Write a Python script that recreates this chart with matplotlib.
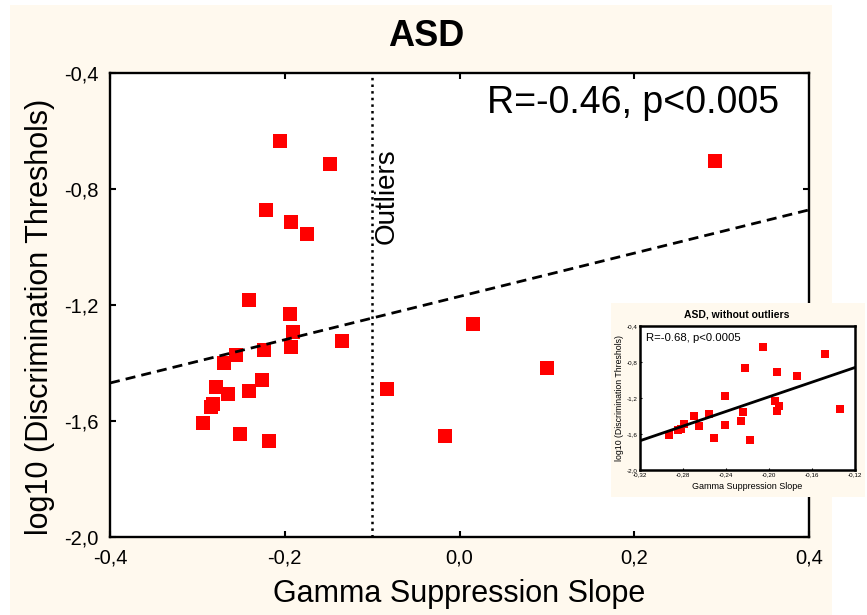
import matplotlib
matplotlib.use('Agg')
import matplotlib.pyplot as plt
from matplotlib.patches import Rectangle
from matplotlib.ticker import FuncFormatter

plt.rcParams['font.family'] = ['Liberation Sans', 'DejaVu Sans']

# gamma suppression slope / log10 thresholds
slope = [-0.2055, -0.148, -0.222, -0.193, -0.174, -0.241, -0.194, -0.191,
         -0.193, -0.134, -0.224, -0.256, -0.270, -0.2265, -0.279, -0.265,
         -0.2405, -0.282, -0.2845, -0.293, -0.251, -0.2177,
         0.2926, 0.016, 0.1003, -0.0835, -0.0168]
thresh = [-0.633, -0.713, -0.872, -0.913, -0.954, -1.183, -1.232, -1.292,
          -1.346, -1.324, -1.355, -1.374, -1.399, -1.459, -1.484, -1.507,
          -1.497, -1.541, -1.553, -1.608, -1.645, -1.669,
          -0.703, -1.267, -1.416, -1.488, -1.653]
cutoff = -0.1   # outliers to the right of this

# regression lines (end points)
fit_x = [-0.4, 0.4]
fit_y = [-1.469, -0.872]
fit2_x = [-0.32, -0.12]
fit2_y = [-1.675, -0.861]

xticks = [-0.4, -0.2, 0.0, 0.2, 0.4]
yticks = [-0.4, -0.8, -1.2, -1.6, -2.0]
xticks2 = [-0.32, -0.28, -0.24, -0.20, -0.16, -0.12]

cream = '#fff9ee'

def comma(nd):
    def f(v, pos):
        if abs(v) < 1e-9: v = 0.0
        return ('{:.%df}' % nd).format(v).replace('.', ',')
    return FuncFormatter(f)

W, H = 867, 615
fig = plt.figure(figsize=(W/100, H/100), dpi=100, facecolor='white')
fig.add_artist(Rectangle((10/W, 0), 822/W, 610/H, transform=fig.transFigure,
                         facecolor=cream, edgecolor='none', zorder=-1))

ax = fig.add_axes([110/W, 1-537/H, 699/W, 464/H])
ax.set_facecolor('white')
ax.plot(slope, thresh, 's', color='red', markersize=10, markeredgewidth=0, zorder=2)
ax.plot(fit_x, fit_y, color='black', lw=2, ls=(0, (3.6, 2.2)), zorder=3)
ax.axvline(cutoff, color='black', lw=1.8, ls=':', zorder=3)
ax.set_xlim(-0.4, 0.4)
ax.set_ylim(-2.0, -0.4)
ax.set_xticks(xticks)
ax.set_yticks(yticks)
ax.xaxis.set_major_formatter(comma(1))
ax.yaxis.set_major_formatter(comma(1))
ax.tick_params(direction='in', top=True, right=True, length=4, width=1.5,
               labelsize=14.5, pad=8)
for s in ax.spines.values():
    s.set_linewidth(1.7)
ax.set_xlabel('Gamma Suppression Slope', fontsize=22)
ax.xaxis.set_label_coords(0.5, -0.09)
ax.set_ylabel('log10 (Discrimination Threshols)', fontsize=22)
ax.yaxis.set_label_coords(-0.079, 0.475)
ax.text(0.539, 0.935, 'R=-0.46, p<0.005', transform=ax.transAxes,
        fontsize=27, ha='left', va='center')
ax.text(-0.083, -0.826, 'Outliers', rotation=90, fontsize=20,
        ha='center', va='center')
fig.text(426/W, 1-37/H, 'ASD', fontsize=26, fontweight='bold',
         ha='center', va='center')

# inset: without outliers
fig.add_artist(Rectangle((611/W, 1-497/H), 254/W, 194/H, transform=fig.transFigure,
                         facecolor=cream, edgecolor='none', zorder=1))
ins = fig.add_axes([640/W, 1-470/H, 215/W, 144/H])
ins.set_zorder(2)
ins.set_facecolor('white')
xs = [a for a in slope if a < cutoff]
ys = [b for a, b in zip(slope, thresh) if a < cutoff]
ins.plot(xs, ys, 's', color='red', markersize=5.5, markeredgewidth=0, zorder=2)
ins.plot(fit2_x, fit2_y, color='black', lw=2, zorder=3)
ins.set_xlim(-0.32, -0.12)
ins.set_ylim(-2.0, -0.4)
ins.set_xticks(xticks2)
ins.set_yticks(yticks)
ins.xaxis.set_major_formatter(comma(2))
ins.yaxis.set_major_formatter(comma(1))
ins.tick_params(direction='in', length=1.5, width=0.8, labelsize=4.5, pad=1.5)
for s in ins.spines.values():
    s.set_linewidth(1.8)
ins.set_xlabel('Gamma Suppression Slope', fontsize=6.5)
ins.xaxis.set_label_coords(0.5, -0.085)
ins.set_ylabel('log10 (Discrimination Threshols)', fontsize=6.3)
ins.yaxis.set_label_coords(-0.075, 0.5)
ins.text(0.028, 0.917, 'R=-0.68, p<0.0005', transform=ins.transAxes,
         fontsize=8.2, ha='left', va='center')
fig.text(737/W, 1-314/H, 'ASD, without outliers', fontsize=7.5,
         fontweight='bold', ha='center', va='center')

fig.savefig('out.png', dpi=100)
